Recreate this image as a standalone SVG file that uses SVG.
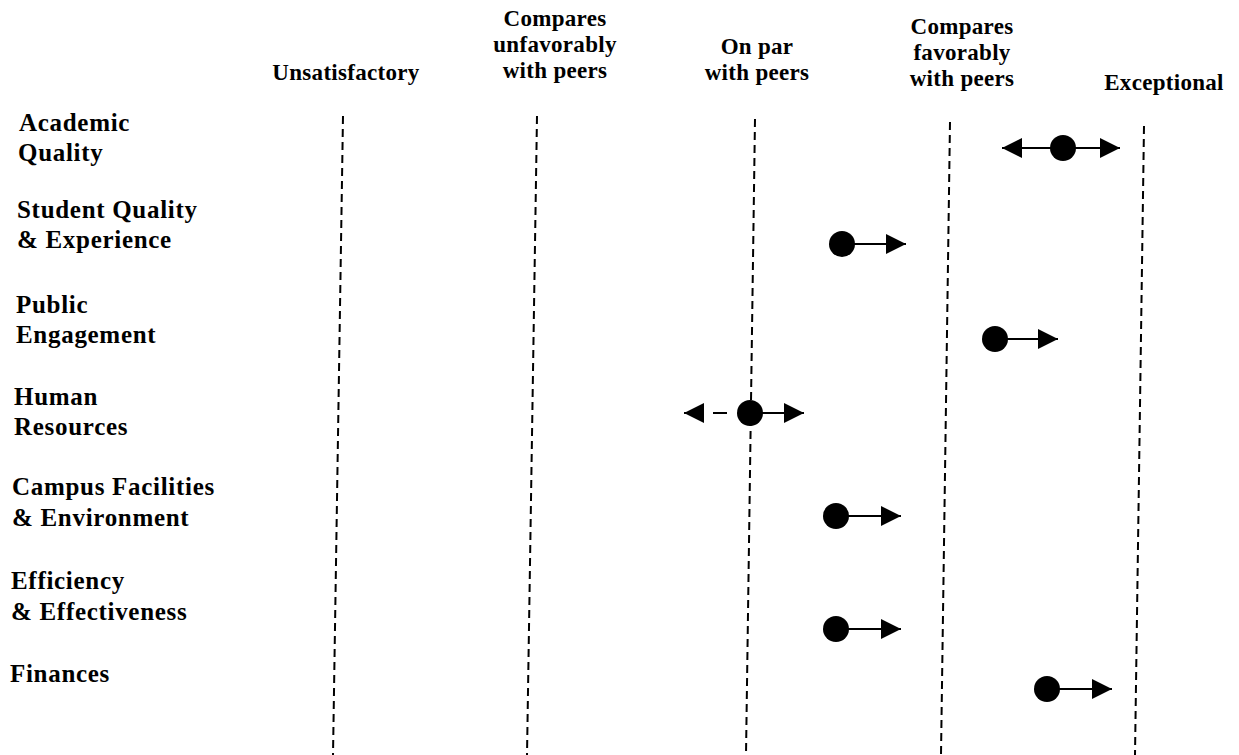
<svg xmlns="http://www.w3.org/2000/svg" width="1239" height="755" viewBox="0 0 1239 755">
  <style>
    text { font-family: "Liberation Serif", "Times New Roman", serif; font-weight: bold; fill: #000; }
    .hdr { font-size: 23px; letter-spacing: 0.3px; text-anchor: middle; }
    .row { font-size: 25px; letter-spacing: 0.7px; }
    .grid { stroke: #000; stroke-width: 2; stroke-dasharray: 8 5; fill: none; }
    .shaft { stroke: #000; stroke-width: 2; fill: none; }
    .dot { fill: #000; }
  </style>
  <defs>
    <marker id="head" viewBox="0 0 20 20" refX="20" refY="10" markerWidth="20" markerHeight="20" markerUnits="userSpaceOnUse" orient="auto">
      <path d="M0,0 L20,10 L0,20 z" fill="#000"/>
    </marker>
  </defs>
  <rect width="1239" height="755" fill="#fff"/>

  <g id="columns">
    <g id="col-unsatisfactory">
      <text class="hdr" x="346" y="80">Unsatisfactory</text>
    </g>
    <g id="col-unfavorable">
      <text class="hdr" x="555" y="26">Compares</text>
      <text class="hdr" x="555" y="52">unfavorably</text>
      <text class="hdr" x="555" y="78">with peers</text>
    </g>
    <g id="col-onpar">
      <text class="hdr" x="757" y="54">On par</text>
      <text class="hdr" x="757" y="80">with peers</text>
    </g>
    <g id="col-favorable">
      <text class="hdr" x="962" y="34">Compares</text>
      <text class="hdr" x="962" y="60">favorably</text>
      <text class="hdr" x="962" y="86">with peers</text>
    </g>
    <g id="col-exceptional">
      <text class="hdr" x="1164" y="90">Exceptional</text>
    </g>
  </g>

  <g id="gridlines">
    <line class="grid" x1="343" y1="116" x2="333" y2="755"/>
    <line class="grid" x1="537" y1="116" x2="527" y2="755"/>
    <line class="grid" x1="755" y1="119" x2="746" y2="755"/>
    <line class="grid" x1="950" y1="122" x2="941" y2="755"/>
    <line class="grid" x1="1144" y1="126" x2="1135" y2="755"/>
  </g>

  <g id="rows">
    <g id="row-academic">
      <text class="row" x="19" y="131">Academic</text>
      <text class="row" x="18" y="161">Quality</text>
    </g>
    <g id="row-student">
      <text class="row" x="17" y="218">Student Quality</text>
      <text class="row" x="17" y="248">&amp; Experience</text>
    </g>
    <g id="row-public">
      <text class="row" x="16" y="313">Public</text>
      <text class="row" x="16" y="343">Engagement</text>
    </g>
    <g id="row-human">
      <text class="row" x="14" y="405">Human</text>
      <text class="row" x="14" y="435">Resources</text>
    </g>
    <g id="row-campus">
      <text class="row" x="12" y="495">Campus Facilities</text>
      <text class="row" x="12" y="526">&amp; Environment</text>
    </g>
    <g id="row-efficiency">
      <text class="row" x="11" y="589">Efficiency</text>
      <text class="row" x="11" y="620">&amp; Effectiveness</text>
    </g>
    <g id="row-finances">
      <text class="row" x="10" y="682">Finances</text>
    </g>
  </g>

  <g id="connectors">
    <!-- Academic Quality -->
    <line class="shaft" x1="1063" y1="148" x2="1002" y2="148" marker-end="url(#head)"/>
    <line class="shaft" x1="1063" y1="148" x2="1120" y2="148" marker-end="url(#head)"/>
    <circle class="dot" cx="1063" cy="148" r="13"/>
    <!-- Student Quality -->
    <line class="shaft" x1="842" y1="244" x2="906" y2="244" marker-end="url(#head)"/>
    <circle class="dot" cx="842" cy="244" r="13"/>
    <!-- Public Engagement -->
    <line class="shaft" x1="995" y1="339" x2="1058" y2="339" marker-end="url(#head)"/>
    <circle class="dot" cx="995" cy="339" r="13"/>
    <!-- Human Resources -->
    <line class="shaft" x1="727" y1="413" x2="713" y2="413"/>
    <line class="shaft" x1="703" y1="413" x2="684" y2="413" marker-end="url(#head)"/>
    <line class="shaft" x1="750" y1="413" x2="804" y2="413" marker-end="url(#head)"/>
    <circle class="dot" cx="750" cy="413" r="13"/>
    <!-- Campus Facilities -->
    <line class="shaft" x1="836" y1="516" x2="901" y2="516" marker-end="url(#head)"/>
    <circle class="dot" cx="836" cy="516" r="13"/>
    <!-- Efficiency -->
    <line class="shaft" x1="836" y1="629" x2="901" y2="629" marker-end="url(#head)"/>
    <circle class="dot" cx="836" cy="629" r="13"/>
    <!-- Finances -->
    <line class="shaft" x1="1047" y1="689" x2="1112" y2="689" marker-end="url(#head)"/>
    <circle class="dot" cx="1047" cy="689" r="13"/>
  </g>
</svg>
